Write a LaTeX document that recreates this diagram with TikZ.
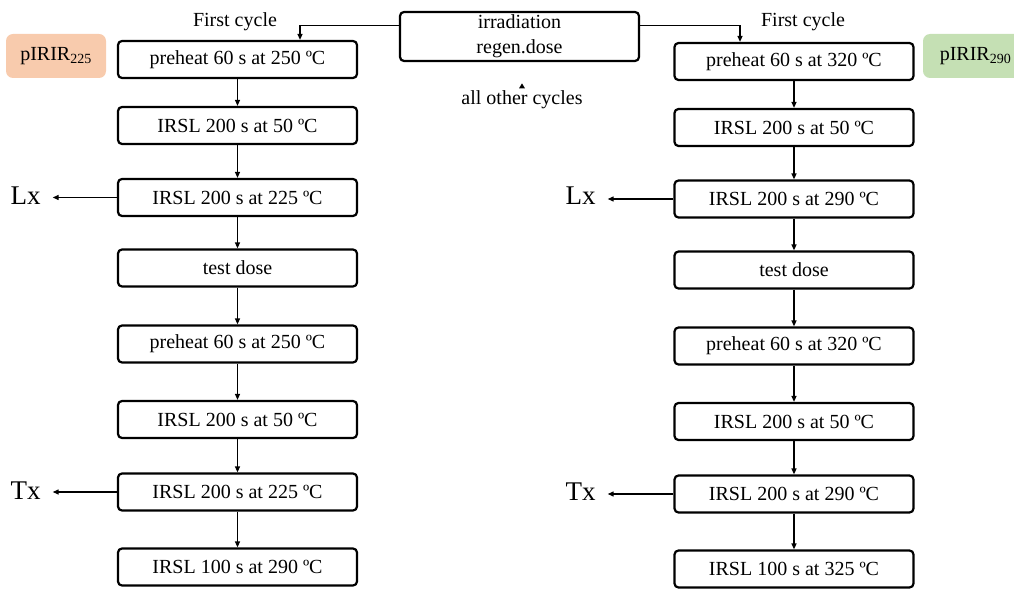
\documentclass[tikz,border=0pt]{standalone}
\usepackage{fontspec}
\setmainfont{Liberation Serif}
\usetikzlibrary{arrows.meta}
\definecolor{peach}{HTML}{F8CBAD}
\definecolor{palegreen}{HTML}{C5E0B4}
\tikzset{
  stepbox/.style={draw, line width=2.2pt, rounded corners=4pt, minimum width=239pt,
    minimum height=37pt, inner sep=0pt, font=\fontsize{20}{25}\selectfont},
  tagbox/.style={rounded corners=7pt, minimum height=44pt, inner sep=0pt,
    font=\fontsize{20}{24}\selectfont},
  flow/.style={line width=1.3pt, -{Triangle[length=6pt,width=5pt]}},
  lbl/.style={font=\fontsize{20}{24}\selectfont},
  readout/.style={font=\fontsize{27}{30}\selectfont, inner xsep=12pt}
}
\begin{document}
\begin{tikzpicture}[x=1pt, y=-1pt]
\useasboundingbox (0,0) rectangle (1014,609);

% Irradiation
\node[stepbox, minimum height=49pt, align=center] (irr) at (519.5,36.5) {irradiation\\regen.dose};
\node[lbl] (firstl) at (235,22) {First cycle};
\node[lbl] (firstr) at (803,22) {First cycle};
\node[lbl] (others) at (522,100) {all other cycles};

% Protocol tags
\node[tagbox, fill=peach, minimum width=100pt] (tagl) at (56,56) {pIRIR\textsubscript{225}};
\node[tagbox, fill=palegreen, minimum width=105pt] (tagr) at (975.5,56) {pIRIR\textsubscript{290}};

% pIRIR225 steps
\node[stepbox] (a1) at (237.5,59.5) {preheat 60 s at 250 ºC};
\node[stepbox] (a2) at (237.5,125.5) {IRSL 200 s at 50 ºC};
\node[stepbox] (a3) at (237.5,197.5) {IRSL 200 s at 225 ºC};
\node[stepbox] (a4) at (237.5,268) {test dose};
\node[stepbox] (a5) at (237.5,344) {preheat 60 s at 250 ºC};
\node[stepbox] (a6) at (237.5,419.5) {IRSL 200 s at 50 ºC};
\node[stepbox] (a7) at (237.5,492) {IRSL 200 s at 225 ºC};
\node[stepbox] (a8) at (237.5,567) {IRSL 100 s at 290 ºC};

% pIRIR290 steps
\node[stepbox] (b1) at (794,61.5) {preheat 60 s at 320 ºC};
\node[stepbox] (b2) at (794,127.5) {IRSL 200 s at 50 ºC};
\node[stepbox] (b3) at (794,199) {IRSL 200 s at 290 ºC};
\node[stepbox] (b4) at (794,270) {test dose};
\node[stepbox] (b5) at (794,346) {preheat 60 s at 320 ºC};
\node[stepbox] (b6) at (794,421.5) {IRSL 200 s at 50 ºC};
\node[stepbox] (b7) at (794,494) {IRSL 200 s at 290 ºC};
\node[stepbox] (b8) at (794,569) {IRSL 100 s at 325 ºC};

% Signals
\node[readout] (lxl) at (25.5,196) {Lx};
\node[readout] (txl) at (25.5,491) {Tx};
\node[readout] (lxr) at (580.5,196) {Lx};
\node[readout] (txr) at (580.5,492) {Tx};

% Connectors
\draw[flow] ([yshift=11pt]irr.west) -| ([xshift=62.5pt]a1.north);
\draw[flow] ([yshift=11pt]irr.east) -| ([xshift=-54pt]b1.north);
\fill ([xshift=-3pt,yshift=-1pt]others.north) -- ++(3,-5) -- ++(3,5) -- cycle;
\draw[flow] (a1) -- (a2);
\draw[flow] (a2) -- (a3);
\draw[flow] (a3) -- (a4);
\draw[flow] (a4) -- (a5);
\draw[flow] (a5) -- (a6);
\draw[flow] (a6) -- (a7);
\draw[flow] (a7) -- (a8);
\draw[flow] (b1) -- (b2);
\draw[flow] (b2) -- (b3);
\draw[flow] (b3) -- (b4);
\draw[flow] (b4) -- (b5);
\draw[flow] (b5) -- (b6);
\draw[flow] (b6) -- (b7);
\draw[flow] (b7) -- (b8);
\draw[flow] (a3.west) -- (a3.west -| lxl.east);
\draw[flow] (a7.west) -- (a7.west -| txl.east);
\draw[flow] (b3.west) -- (b3.west -| lxr.east);
\draw[flow] (b7.west) -- (b7.west -| txr.east);
\end{tikzpicture}
\end{document}
